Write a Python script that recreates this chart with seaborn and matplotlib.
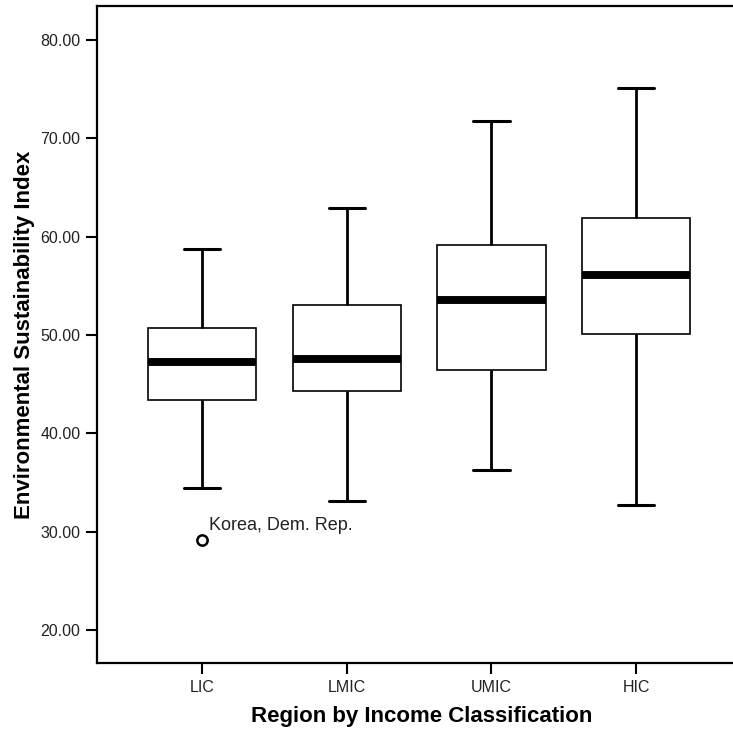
#!/usr/bin/env python3
# esi_boxplot.py

import matplotlib
matplotlib.use('Agg')
import matplotlib.pyplot as plt
import pandas as pd
import seaborn as sns

# Data ========================================================================

groups = ['LIC', 'LMIC', 'UMIC', 'HIC']
whisker_low = [34.4, 33.1, 36.3, 32.7]
q1 = [43.4, 44.3, 46.4, 50.1]
median = [47.3, 47.6, 53.6, 56.1]
q3 = [50.7, 53.0, 59.2, 61.9]
whisker_high = [58.7, 62.9, 71.8, 75.1]

outlier_group = ['LIC']
outlier_value = [29.2]
outlier_label = ['Korea, Dem. Rep.']

y_ticks = [20, 30, 40, 50, 60, 70, 80]


def main():
    sns.set_style('white')
    plt.rcParams['font.family'] = ['Liberation Sans', 'DejaVu Sans']

    rows = []
    for i, g in enumerate(groups):
        for v in (whisker_low[i], q1[i], median[i], q3[i], whisker_high[i]):
            rows.append({'Region': g, 'ESI': v})
    df = pd.DataFrame(rows)
    out = pd.DataFrame({'Region': outlier_group, 'ESI': outlier_value})

    fig = plt.figure(figsize=(7.33, 7.33), dpi=100)
    ax = fig.add_axes([97 / 733, 70 / 733, 636 / 733, 657 / 733])

    sns.boxplot(
        data=df, x='Region', y='ESI', order=groups, ax=ax,
        color='white', linecolor='black', width=0.75, whis=(0, 100),
        capwidths=0.25,
        boxprops=dict(linewidth=1.2, edgecolor='black'),
        whiskerprops=dict(linewidth=2.0, color='black'),
        capprops=dict(linewidth=2.2, color='black'),
        medianprops=dict(linewidth=5.7, color='black', solid_capstyle='butt'),
    )
    sns.scatterplot(
        data=out, x='Region', y='ESI', ax=ax, marker='o', s=55,
        facecolor='white', edgecolor='black', linewidth=1.8, zorder=5,
    )
    for g, v, lab in zip(outlier_group, outlier_value, outlier_label):
        ax.annotate(lab, (groups.index(g), v), xytext=(5, 4),
                    textcoords='offset points', fontsize=13, ha='left',
                    va='bottom', color='#222222')

    ax.set_xlim(-0.727, 3.67)
    ax.set_ylim(16.65, 83.45)
    ax.set_yticks(y_ticks)
    ax.set_yticklabels(['{:.2f}'.format(t) for t in y_ticks])

    for side in ('left', 'bottom', 'top'):
        ax.spines[side].set_visible(True)
        ax.spines[side].set_linewidth(1.6)
        ax.spines[side].set_color('black')
    ax.spines['right'].set_visible(False)

    ax.tick_params(axis='both', direction='out', length=8, width=1.5,
                   labelsize=11.5, color='black', labelcolor='#222222',
                   left=True, bottom=True, pad=4)

    ax.set_xlabel('Region by Income Classification', fontsize=16,
                  fontweight='bold', color='black')
    ax.set_ylabel('Environmental Sustainability Index', fontsize=16,
                  fontweight='bold', labelpad=4, color='black')
    ax.xaxis.set_label_coords(0.51, -0.066)

    fig.savefig('out.png', dpi=100)


if __name__ == '__main__':
    main()
